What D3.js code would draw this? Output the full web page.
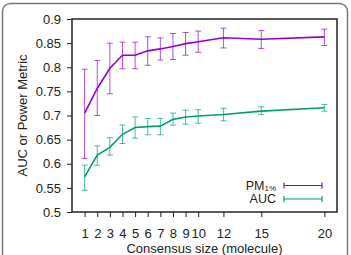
<!DOCTYPE html>
<html>
<head>
<meta charset="utf-8">
<script src="https://cdn.jsdelivr.net/npm/d3@7"></script>
<style>
  body { margin: 0; background: #fff; }
  svg { display: block; font-family: "Liberation Sans", Arial, sans-serif; }
</style>
</head>
<body>
<div id="content"></div>
<script>
// consensus size (x) and the two series
var sizes   = [1, 2, 3, 4, 5, 6, 7, 8, 9, 10, 12, 15, 20];
var pmMean  = [0.705, 0.756, 0.798, 0.825, 0.825, 0.834, 0.838, 0.843, 0.849, 0.853, 0.861, 0.858, 0.863];
var pmLow   = [0.611, 0.700, 0.745, 0.797, 0.797, 0.804, 0.815, 0.816, 0.825, 0.831, 0.840, 0.839, 0.845];
var pmHigh  = [0.796, 0.814, 0.850, 0.852, 0.852, 0.863, 0.861, 0.870, 0.872, 0.875, 0.881, 0.876, 0.879];
var aucMean = [0.573, 0.618, 0.634, 0.661, 0.675, 0.677, 0.678, 0.692, 0.697, 0.699, 0.702, 0.709, 0.716];
var aucLow  = [0.545, 0.597, 0.618, 0.642, 0.653, 0.660, 0.660, 0.680, 0.682, 0.684, 0.689, 0.702, 0.709];
var aucHigh = [0.597, 0.637, 0.654, 0.680, 0.697, 0.694, 0.694, 0.705, 0.711, 0.712, 0.715, 0.718, 0.723];

var xTicks = [1, 2, 3, 4, 5, 6, 7, 8, 9, 10, 12, 15, 20];
var yTicks = [0.5, 0.55, 0.6, 0.65, 0.7, 0.75, 0.8, 0.85, 0.9];

var W = 351, H = 255;
var margin = {top: 19, right: 14, bottom: 43, left: 72};
var width = W - margin.left - margin.right,
    height = H - margin.top - margin.bottom;

var purple = "#9400d3", green = "#009e73";

var svg = d3.select("#content")
  .append("svg")
  .attr("width", W)
  .attr("height", H);

// rounded outer frame
svg.append("rect")
  .attr("x", 2.5).attr("y", 3.5)
  .attr("width", 345).attr("height", 270)
  .attr("rx", 8)
  .attr("fill", "none")
  .attr("stroke", "#777")
  .attr("stroke-width", 1.5);

var g = svg.append("g")
  .attr("transform", "translate(" + margin.left + "," + margin.top + ")");

var x = d3.scaleLinear().domain([0, 21]).range([0, width]);
var y = d3.scaleLinear().domain([0.5, 0.9]).range([height, 0]);

// axes
var xAxis = g.append("g")
  .attr("transform", "translate(0," + height + ")")
  .call(d3.axisBottom(x).tickValues(xTicks).tickSize(5).tickSizeOuter(0).tickPadding(12));
var yAxis = g.append("g")
  .call(d3.axisLeft(y).tickValues(yTicks).tickSize(5).tickSizeOuter(0).tickPadding(6)
    .tickFormat(function(d) { return String(+d.toFixed(2)); }));

[xAxis, yAxis].forEach(function(a) {
  a.select(".domain").remove();
  a.selectAll("line").attr("stroke", "#222").attr("stroke-width", 1);
  a.selectAll("text").attr("fill", "#222").style("font-size", "13px");
});

// plot border
g.append("rect")
  .attr("width", width).attr("height", height)
  .attr("fill", "none")
  .attr("stroke", "#222")
  .attr("stroke-width", 1.5);

// axis titles
svg.append("text")
  .attr("x", margin.left + width / 2)
  .attr("y", 252.5)
  .attr("text-anchor", "middle")
  .attr("fill", "#222")
  .style("font-size", "13px")
  .text("Consensus size (molecule)");

svg.append("text")
  .attr("transform", "translate(27," + (margin.top + height / 2) + ") rotate(-90)")
  .attr("text-anchor", "middle")
  .attr("fill", "#222")
  .style("font-size", "13px")
  .text("AUC or Power Metric");

function series(mean, low, high, color) {
  var rows = sizes.map(function(s, i) { return {x: s, m: mean[i], lo: low[i], hi: high[i]}; });
  var cap = 3;
  var eb = g.append("g")
    .attr("stroke", color)
    .attr("stroke-width", 1)
    .attr("stroke-opacity", 0.7);
  eb.selectAll(".v").data(rows).join("line")
    .attr("x1", function(d) { return x(d.x); }).attr("x2", function(d) { return x(d.x); })
    .attr("y1", function(d) { return y(d.lo); }).attr("y2", function(d) { return y(d.hi); });
  eb.selectAll(".t").data(rows).join("line")
    .attr("x1", function(d) { return x(d.x) - cap; }).attr("x2", function(d) { return x(d.x) + cap; })
    .attr("y1", function(d) { return y(d.hi); }).attr("y2", function(d) { return y(d.hi); });
  eb.selectAll(".b").data(rows).join("line")
    .attr("x1", function(d) { return x(d.x) - cap; }).attr("x2", function(d) { return x(d.x) + cap; })
    .attr("y1", function(d) { return y(d.lo); }).attr("y2", function(d) { return y(d.lo); });

  g.append("path")
    .datum(rows)
    .attr("fill", "none")
    .attr("stroke", color)
    .attr("stroke-width", 1.6)
    .attr("d", d3.line().x(function(d) { return x(d.x); }).y(function(d) { return y(d.m); }));
}

series(pmMean, pmLow, pmHigh, purple);
series(aucMean, aucLow, aucHigh, green);

// legend
var legend = [
  {name: "PM", sub: "1%", color: purple, yy: 185.5},
  {name: "AUC", sub: "", color: green, yy: 199}
];
legend.forEach(function(l) {
  var t = svg.append("text")
    .attr("x", 276).attr("y", l.yy + 4)
    .attr("text-anchor", "end")
    .attr("fill", "#222")
    .style("font-size", "12.5px");
  t.append("tspan").text(l.name);
  if (l.sub) t.append("tspan").attr("dy", 1).style("font-size", "8px").text(l.sub);
  var lg = svg.append("g").attr("stroke", l.color).attr("stroke-width", 1.2);
  lg.append("line").attr("x1", 284).attr("x2", 322).attr("y1", l.yy).attr("y2", l.yy);
  lg.append("line").attr("x1", 284).attr("x2", 284).attr("y1", l.yy - 3).attr("y2", l.yy + 3);
  lg.append("line").attr("x1", 322).attr("x2", 322).attr("y1", l.yy - 3).attr("y2", l.yy + 3);
});
</script>
</body>
</html>
